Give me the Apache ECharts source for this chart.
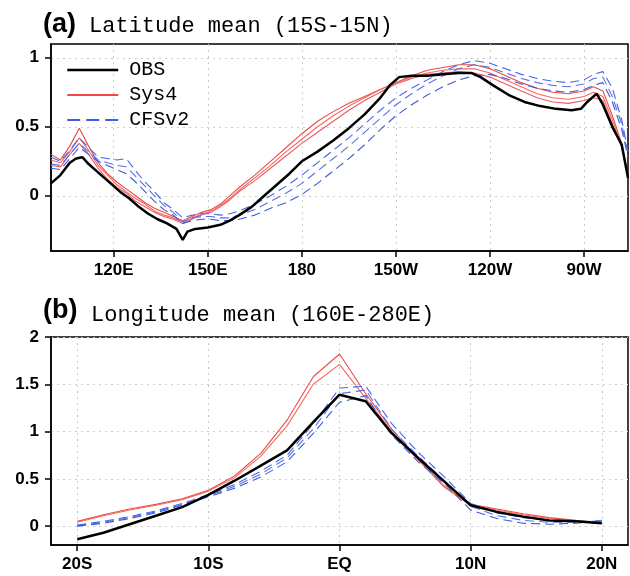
<!DOCTYPE html>
<html><head><meta charset="utf-8">
<script src="https://cdn.jsdelivr.net/npm/echarts@6/dist/echarts.min.js"></script>
<style>html,body{margin:0;padding:0;background:#fff}#c{width:630px;height:576px}</style>
</head><body><div id="c"></div>
<script>
// ---------- Panel (a): latitude mean, x = longitude (deg E) ----------
const lonTicksA = [120, 150, 180, 210, 240, 270];
const lonTickLabelsA = ['120E', '150E', '180', '150W', '120W', '90W'];
const yTicksA = [0, 0.5, 1];

const lonObs = [100,103,106,108,110,112,115,118,120,122,125,128,131,134,137,140,142,143.5,146,150,154,157,160,164,168,172,176,180,185,190,195,200,205,208,211,215,220,225,230,234,237,241,246,251,256,261,266,269,271,274,276,279,282,284];
const obsA = [0.09,0.15,0.24,0.27,0.28,0.23,0.17,0.11,0.07,0.03,-0.02,-0.08,-0.13,-0.17,-0.20,-0.24,-0.32,-0.26,-0.24,-0.23,-0.21,-0.18,-0.14,-0.08,0.00,0.08,0.16,0.25,0.32,0.40,0.49,0.59,0.71,0.80,0.86,0.87,0.87,0.88,0.89,0.89,0.86,0.80,0.73,0.68,0.65,0.63,0.62,0.63,0.68,0.74,0.66,0.50,0.37,0.13];

const lonMod = [100,103,106,109,112,115,118,121,124,127,130,133,136,139,142,145,148,151,154,157,160,165,170,175,180,185,190,195,200,205,210,215,220,225,230,235,240,245,250,255,260,265,270,273,276,279,282,284];
const sys4A1 = [0.30,0.26,0.36,0.49,0.36,0.24,0.16,0.10,0.05,0.00,-0.05,-0.09,-0.12,-0.15,-0.18,-0.15,-0.12,-0.10,-0.06,0.00,0.06,0.15,0.25,0.35,0.45,0.54,0.61,0.67,0.72,0.77,0.82,0.87,0.91,0.93,0.95,0.95,0.92,0.87,0.82,0.78,0.75,0.74,0.76,0.79,0.76,0.58,0.38,0.15];
const sys4A2 = [0.26,0.24,0.32,0.42,0.33,0.22,0.15,0.08,0.03,-0.02,-0.06,-0.11,-0.14,-0.16,-0.19,-0.16,-0.14,-0.11,-0.07,-0.02,0.04,0.13,0.22,0.32,0.41,0.50,0.58,0.65,0.71,0.77,0.82,0.86,0.89,0.91,0.92,0.92,0.89,0.84,0.79,0.74,0.71,0.70,0.72,0.75,0.72,0.55,0.36,0.14];
const sys4A3 = [0.22,0.21,0.30,0.38,0.30,0.20,0.12,0.06,0.02,-0.04,-0.08,-0.12,-0.15,-0.17,-0.20,-0.17,-0.13,-0.12,-0.08,-0.03,0.03,0.11,0.20,0.29,0.38,0.46,0.54,0.62,0.69,0.75,0.81,0.85,0.88,0.89,0.90,0.89,0.86,0.81,0.76,0.71,0.68,0.67,0.69,0.71,0.69,0.52,0.35,0.13];
const cfsA1 = [0.28,0.25,0.33,0.42,0.35,0.28,0.27,0.26,0.27,0.18,0.10,0.03,-0.05,-0.10,-0.16,-0.14,-0.13,-0.13,-0.14,-0.13,-0.11,-0.06,0.00,0.07,0.15,0.24,0.33,0.42,0.52,0.62,0.71,0.78,0.84,0.90,0.95,0.98,0.96,0.92,0.88,0.85,0.83,0.82,0.84,0.88,0.90,0.78,0.55,0.32];
const cfsA2 = [0.23,0.22,0.30,0.38,0.32,0.26,0.24,0.22,0.21,0.14,0.07,0.00,-0.07,-0.12,-0.19,-0.16,-0.15,-0.15,-0.16,-0.16,-0.14,-0.10,-0.04,0.02,0.09,0.18,0.27,0.36,0.46,0.56,0.66,0.74,0.81,0.87,0.92,0.95,0.93,0.89,0.85,0.82,0.80,0.79,0.81,0.85,0.86,0.72,0.52,0.30];
const cfsA3 = [0.20,0.19,0.27,0.35,0.30,0.25,0.22,0.19,0.16,0.10,0.03,-0.04,-0.10,-0.14,-0.20,-0.18,-0.17,-0.17,-0.18,-0.18,-0.17,-0.14,-0.09,-0.05,0.01,0.09,0.18,0.27,0.37,0.48,0.58,0.66,0.73,0.79,0.84,0.87,0.88,0.85,0.81,0.78,0.76,0.75,0.77,0.80,0.82,0.68,0.48,0.28];

// ---------- Panel (b): longitude mean, x = latitude (deg, S negative) ----------
const latTicksB = [-20, -10, 0, 10, 20];
const latTickLabelsB = ['20S', '10S', 'EQ', '10N', '20N'];
const yTicksB = [0, 0.5, 1, 1.5, 2];
const lat = [-20,-18,-16,-14,-12,-10,-8,-6,-4,-2,0,2,4,6,8,10,12,14,16,18,20];
const obsB  = [-0.14,-0.07,0.02,0.11,0.20,0.33,0.48,0.64,0.80,1.10,1.39,1.32,0.98,0.72,0.47,0.22,0.15,0.10,0.06,0.05,0.03];
const sys4B1 = [0.05,0.12,0.18,0.23,0.29,0.38,0.53,0.77,1.12,1.58,1.82,1.40,1.02,0.72,0.42,0.23,0.18,0.13,0.09,0.06,0.03];
const sys4B2 = [0.04,0.11,0.17,0.22,0.28,0.37,0.51,0.74,1.06,1.50,1.71,1.35,1.00,0.70,0.41,0.22,0.17,0.12,0.08,0.05,0.03];
const cfsB1 = [0.01,0.05,0.10,0.16,0.24,0.33,0.44,0.58,0.75,1.08,1.46,1.48,1.08,0.78,0.52,0.24,0.14,0.09,0.06,0.05,0.05];
const cfsB2 = [0.00,0.04,0.09,0.15,0.23,0.32,0.42,0.55,0.72,1.03,1.40,1.44,1.02,0.74,0.48,0.21,0.11,0.06,0.04,0.04,0.06];
const cfsB3 = [0.00,0.03,0.08,0.14,0.22,0.31,0.40,0.52,0.68,0.98,1.31,1.38,0.96,0.68,0.45,0.17,0.08,0.03,0.02,0.03,0.05];

const zip = (xs, ys) => xs.map((x, i) => [x, ys[i]]);
const labelFont = { fontFamily: 'Liberation Sans', fontWeight: 'bold', fontSize: 17, color: '#000' };
const splitStyle = { show: true, lineStyle: { type: [2, 4], color: '#cccccc', width: 1 } };
const axLine = { show: true, onZero: false, lineStyle: { color: '#000', width: 1.5 } };

function mkX(idx, min, max, ticks, labels) {
  return {
    type: 'value', gridIndex: idx, min: min, max: max,
    axisLine: axLine,
    axisTick: { show: true, length: 6, inside: false, customValues: ticks, lineStyle: { color: '#000', width: 1.5 } },
    axisLabel: Object.assign({ customValues: ticks, margin: 11, formatter: v => labels[ticks.indexOf(v)] }, labelFont),
    splitLine: splitStyle
  };
}
function mkY(idx, min, max, ticks) {
  return {
    type: 'value', gridIndex: idx, min: min, max: max,
    axisLine: axLine,
    axisTick: { show: true, length: 6, inside: false, customValues: ticks, lineStyle: { color: '#000', width: 1.5 } },
    axisLabel: Object.assign({ customValues: ticks, margin: 12, formatter: v => String(v) }, labelFont),
    splitLine: splitStyle
  };
}
function ln(name, xi, xs, ys, color, width, dash, z) {
  return {
    type: 'line', name: name, xAxisIndex: xi, yAxisIndex: xi, data: zip(xs, ys),
    symbol: 'none', smooth: false, z: z || 2, silent: true,
    itemStyle: { color: color },
    lineStyle: { color: color, width: width, type: dash || 'solid' }
  };
}
const dash = [9, 5];

const option = {
  backgroundColor: '#fff',
  animation: false,
  grid: [
    { left: 51, top: 44, width: 577, height: 207, show: true, borderColor: '#000', borderWidth: 1.5, backgroundColor: 'transparent' },
    { left: 51, top: 337, width: 577, height: 208, show: true, borderColor: '#000', borderWidth: 1.5, backgroundColor: 'transparent' }
  ],
  xAxis: [mkX(0, 100, 284, lonTicksA, lonTickLabelsA), mkX(1, -22, 22, latTicksB, latTickLabelsB)],
  yAxis: [mkY(0, -0.4, 1.1, yTicksA), mkY(1, -0.2, 2, yTicksB)],
  legend: {
    left: 66, top: 60, orient: 'vertical', itemWidth: 51, itemHeight: 20, itemGap: 5, padding: 0,
    selectedMode: false,
    textStyle: { fontFamily: 'Liberation Mono', fontSize: 20, color: '#000', padding: [0, 0, 0, 6] },
    data: [
      { name: 'OBS', itemStyle: { opacity: 0 }, lineStyle: { width: 2.5, color: '#000' } },
      { name: 'Sys4', itemStyle: { opacity: 0 }, lineStyle: { width: 2, color: '#f04848' } },
      { name: 'CFSv2', itemStyle: { opacity: 0 }, lineStyle: { width: 2, color: '#3d5ee8', type: [13, 6] } }
    ]
  },
  graphic: [
    { type: 'text', x: 43, y: 25, style: { text: '(a)', fontFamily: 'Liberation Sans', fontWeight: 'bold', fontSize: 27, fill: '#000', verticalAlign: 'middle' } },
    { type: 'text', x: 89, y: 26.5, style: { text: 'Latitude mean (15S-15N)', fontFamily: 'Liberation Mono', fontSize: 22, fill: '#000', verticalAlign: 'middle' } },
    { type: 'text', x: 43, y: 311, style: { text: '(b)', fontFamily: 'Liberation Sans', fontWeight: 'bold', fontSize: 27, fill: '#000', verticalAlign: 'middle' } },
    { type: 'text', x: 91, y: 315, style: { text: 'Longitude mean (160E-280E)', fontFamily: 'Liberation Mono', fontSize: 22, fill: '#000', verticalAlign: 'middle' } }
  ],
  series: [
    ln('Sys4', 0, lonMod, sys4A1, '#ee4a4a', 1.1),
    ln('Sys4', 0, lonMod, sys4A2, '#f26a5e', 1.1),
    ln('Sys4', 0, lonMod, sys4A3, '#e85a6a', 1.1),
    ln('CFSv2', 0, lonMod, cfsA1, '#4466ee', 1.1, dash),
    ln('CFSv2', 0, lonMod, cfsA2, '#5a72e0', 1.1, dash),
    ln('CFSv2', 0, lonMod, cfsA3, '#3d5ad8', 1.1, dash),
    ln('OBS', 0, lonObs, obsA, '#000', 2.5, null, 5),
    ln('Sys4', 1, lat, sys4B1, '#ee4a4a', 1.1),
    ln('Sys4', 1, lat, sys4B2, '#f26a5e', 1.1),
    ln('CFSv2', 1, lat, cfsB1, '#4466ee', 1.1, dash),
    ln('CFSv2', 1, lat, cfsB2, '#5a72e0', 1.1, dash),
    ln('CFSv2', 1, lat, cfsB3, '#3d5ad8', 1.1, dash),
    ln('OBS', 1, lat, obsB, '#000', 2.5, null, 5)
  ]
};
const chart = echarts.init(document.getElementById('c'), null, { renderer: 'canvas' });
chart.setOption(option);
</script></body></html>
